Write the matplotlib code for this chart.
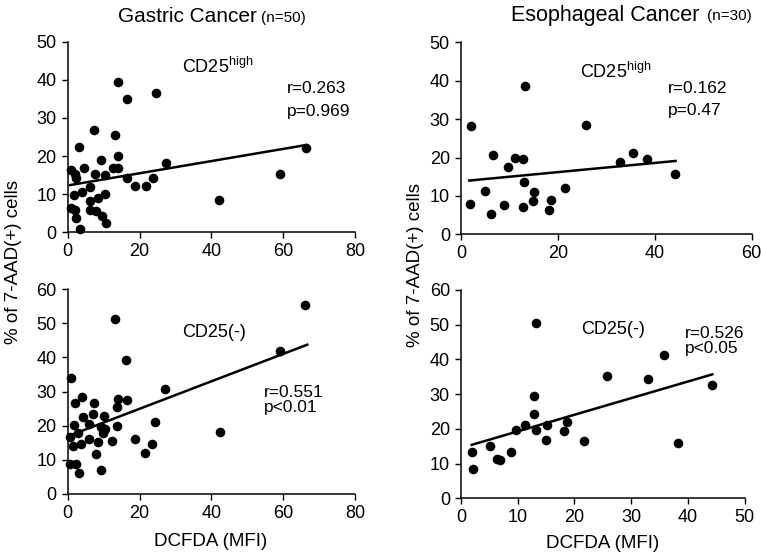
import matplotlib
matplotlib.use("Agg")
import matplotlib.pyplot as plt
import numpy as np

plt.rcParams['font.family'] = ['Liberation Sans', 'DejaVu Sans']

# ---- Gastric cancer, CD25 high ----
g_hi_x = [13.9, 16.5, 24.6, 7.3, 13.3, 3.2, 66.4, 14.1, 9.4, 27.3, 1.0, 2.0, 4.4, 12.5,
          13.9, 7.5, 10.3, 2.3, 16.5, 59.1, 23.7, 18.8, 21.7, 6.2, 4.1, 1.7, 10.3, 8.5,
          6.1, 42.2, 1.0, 2.0, 6.3, 8.0, 9.6, 2.4, 10.8, 3.3]
g_hi_y = [39.3, 34.9, 36.5, 26.9, 25.6, 22.5, 22.2, 20.0, 19.0, 18.1, 16.4, 15.3, 16.8, 16.8,
          16.8, 15.3, 15.0, 14.2, 14.3, 15.2, 14.2, 12.2, 12.2, 11.8, 10.5, 9.8, 10.1, 8.9,
          8.3, 8.5, 6.3, 5.9, 5.9, 5.7, 4.3, 3.7, 2.5, 0.9]
g_hi_fit_x = [0.7, 66.4]
g_hi_fit_y = [12.4, 22.9]

# ---- Esophageal cancer, CD25 high ----
e_hi_x = [13.2, 2.1, 25.7, 6.6, 11.1, 12.7, 35.6, 38.3, 32.8, 9.6, 44.1, 13.1, 21.5,
          5.0, 15.1, 1.9, 8.9, 14.8, 18.6, 12.8, 6.2, 18.1]
e_hi_y = [38.6, 28.3, 28.5, 20.7, 19.9, 19.7, 21.3, 19.7, 18.7, 17.6, 15.7, 13.5, 12.1,
          11.4, 11.1, 7.8, 7.7, 8.6, 8.9, 7.0, 5.4, 6.2]
e_hi_fit_x = [1.7, 44.3]
e_hi_fit_y = [14.0, 19.1]

# ---- Gastric cancer, CD25(-) ----
g_neg_x = [66.2, 13.2, 16.3, 59.1, 0.8, 27.2, 4.0, 2.1, 7.4, 13.9, 16.6, 13.6, 4.3, 7.1,
           10.0, 1.8, 6.0, 9.3, 10.5, 13.6, 24.4, 0.6, 2.9, 6.0, 8.3, 9.8, 12.4, 18.8,
           1.6, 3.6, 23.6, 21.5, 42.3, 7.8, 0.6, 2.4, 3.2, 9.3]
g_neg_y = [55.3, 51.2, 39.3, 42.0, 33.9, 30.7, 28.4, 26.5, 26.5, 27.7, 27.5, 25.4, 22.4, 23.3,
           22.9, 20.2, 20.4, 19.7, 18.9, 19.9, 21.2, 16.8, 17.8, 16.0, 15.3, 17.8, 15.6, 16.0,
           14.0, 14.5, 14.6, 11.9, 18.1, 11.6, 8.7, 8.7, 6.2, 7.0]
g_neg_fit_x = [1.5, 66.7]
g_neg_fit_y = [17.5, 43.7]

# ---- Esophageal cancer, CD25(-) ----
e_neg_x = [13.2, 35.7, 25.7, 32.9, 44.2, 12.8, 12.9, 9.7, 11.3, 13.2, 15.1, 18.6, 18.2,
           14.9, 21.6, 38.3, 5.1, 1.9, 6.3, 6.9, 8.9, 2.2]
e_neg_y = [50.6, 41.3, 35.1, 34.4, 32.5, 29.6, 24.3, 19.8, 21.0, 19.8, 21.2, 21.9, 19.5,
           16.8, 16.6, 15.8, 15.2, 13.2, 11.3, 11.1, 13.4, 8.4]
e_neg_fit_x = [1.9, 44.3]
e_neg_fit_y = [15.4, 35.7]

W, H = 762, 557
fig = plt.figure(figsize=(W / 100, H / 100), dpi=100)


def px_axes(x0, x1, ytop, ybot):
    return fig.add_axes([x0 / W, 1 - ybot / H, (x1 - x0) / W, (ybot - ytop) / H])


ax_tl = px_axes(67.7, 355.0, 41.7, 232.3)
ax_tr = px_axes(461.0, 751.7, 42.3, 234.3)
ax_bl = px_axes(67.7, 355.0, 289.0, 494.0)
ax_br = px_axes(461.0, 744.7, 290.0, 498.3)

panels = [
    (ax_tl, g_hi_x, g_hi_y, g_hi_fit_x, g_hi_fit_y, (0, 80), np.arange(0, 81, 20), (0, 50), np.arange(0, 51, 10)),
    (ax_tr, e_hi_x, e_hi_y, e_hi_fit_x, e_hi_fit_y, (0, 60), np.arange(0, 61, 20), (0, 50), np.arange(0, 51, 10)),
    (ax_bl, g_neg_x, g_neg_y, g_neg_fit_x, g_neg_fit_y, (0, 80), np.arange(0, 81, 20), (0, 60), np.arange(0, 61, 10)),
    (ax_br, e_neg_x, e_neg_y, e_neg_fit_x, e_neg_fit_y, (0, 50), np.arange(0, 51, 10), (0, 60), np.arange(0, 61, 10)),
]

for ax, xs, ys, fx, fy, xl, xt, yl, yt in panels:
    ax.scatter(xs, ys, s=48, color='black', zorder=3, clip_on=False, linewidths=0)
    ax.plot(fx, fy, color='black', lw=1.8, zorder=2)
    ax.set_xlim(*xl)
    ax.set_ylim(*yl)
    ax.set_xticks(xt)
    ax.set_yticks(yt)
    for s in ['top', 'right']:
        ax.spines[s].set_visible(False)
    for s in ['left', 'bottom']:
        ax.spines[s].set_linewidth(1.1)
    ax.tick_params(direction='out', length=4, width=1.0, labelsize=13, pad=4)

txt_kw = dict(fontsize=13, va='center', ha='left')
ax_tl.text(0.397, 0.865, r'CD25$^{\mathregular{high}}$', transform=ax_tl.transAxes, **txt_kw)
ax_tl.text(0.762, 0.757, 'r=0.263', transform=ax_tl.transAxes, fontsize=12.5, va='center')
ax_tl.text(0.762, 0.636, 'p=0.969', transform=ax_tl.transAxes, fontsize=12.5, va='center')

ax_tr.text(0.409, 0.845, r'CD25$^{\mathregular{high}}$', transform=ax_tr.transAxes, **txt_kw)
ax_tr.text(0.713, 0.761, 'r=0.162', transform=ax_tr.transAxes, fontsize=12.5, va='center')
ax_tr.text(0.713, 0.647, 'p=0.47', transform=ax_tr.transAxes, fontsize=12.5, va='center')

ax_bl.text(0.397, 0.787, 'CD25(-)', transform=ax_bl.transAxes, **txt_kw)
ax_bl.text(0.684, 0.496, 'r=0.551', transform=ax_bl.transAxes, fontsize=12.5, va='center')
ax_bl.text(0.684, 0.423, 'p<0.01', transform=ax_bl.transAxes, fontsize=12.5, va='center')

ax_br.text(0.425, 0.808, 'CD25(-)', transform=ax_br.transAxes, **txt_kw)
ax_br.text(0.79, 0.792, 'r=0.526', transform=ax_br.transAxes, fontsize=12.5, va='center')
ax_br.text(0.79, 0.717, 'p<0.05', transform=ax_br.transAxes, fontsize=12.5, va='center')

# Titles
fig.text(118 / W, 1 - 17 / H, 'Gastric Cancer', fontsize=15, ha='left', va='center')
fig.text(261 / W, 1 - 18 / H, '(n=50)', fontsize=11, ha='left', va='center')
fig.text(511 / W, 1 - 15 / H, 'Esophageal Cancer', fontsize=15.5, ha='left', va='center')
fig.text(707 / W, 1 - 16 / H, '(n=30)', fontsize=11, ha='left', va='center')

# Axis labels
fig.text(14 / W, 1 - 262 / H, '% of 7-AAD(+) cells', rotation=90, fontsize=13.5, ha='center', va='center')
fig.text(416 / W, 1 - 265 / H, '% of 7-AAD(+) cells', rotation=90, fontsize=13.5, ha='center', va='center')
fig.text(211 / W, 1 - 541 / H, 'DCFDA (MFI)', fontsize=13.5, ha='center', va='center')
fig.text(603 / W, 1 - 543 / H, 'DCFDA (MFI)', fontsize=13.5, ha='center', va='center')

fig.savefig('out.png', dpi=100, facecolor='white')
